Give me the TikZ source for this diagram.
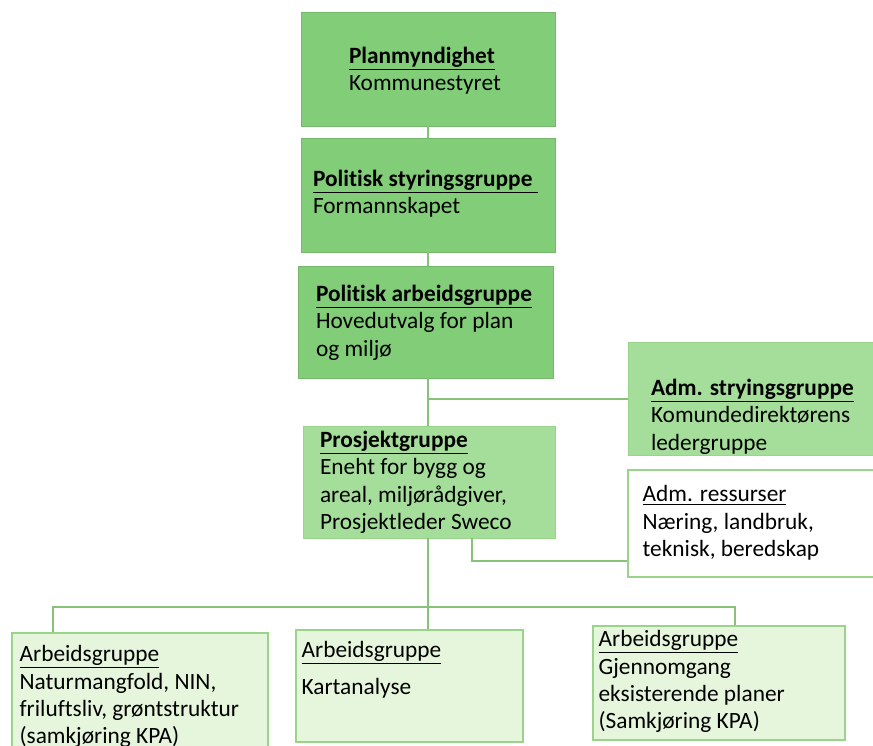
\documentclass[tikz,border=0pt]{standalone}
\usepackage{fontspec}
\setmainfont{Carlito}[RawFeature=-liga]
\definecolor{darkbox}{HTML}{82CD78}
\definecolor{midbox}{HTML}{A5DE9A}
\definecolor{lightbox}{HTML}{E6F6DC}
\definecolor{boxline}{HTML}{9AD48B}
\definecolor{linkcol}{HTML}{86C27A}
\tikzset{
	box/.style={rectangle, inner sep=0pt},
	txt/.style={anchor=north west, inner sep=0pt, align=left, font=\fontsize{17.5}{20.5}\selectfont},
	link/.style={draw=linkcol, line width=1.5pt}
}
\newcommand{\boxtitle}[1]{\underline{\textbf{#1}}}
\begin{document}
\begin{tikzpicture}[x=0.75pt, y=-0.75pt]
	\useasboundingbox (0,0) rectangle (873,745);
	% boxes
	\node[box, fill=darkbox, draw=darkbox!90!black, minimum width=190.5pt, minimum height=85.5pt] (plan) at (428,69) {};
	\node[box, fill=darkbox, draw=darkbox!90!black, minimum width=190.5pt, minimum height=85.5pt] (polstyr) at (428,195) {};
	\node[box, fill=darkbox, draw=darkbox!90!black, minimum width=191.25pt, minimum height=84pt] (polarb) at (425.5,322) {};
	\node[box, fill=midbox, draw=boxline, minimum width=189pt, minimum height=84.75pt] (admstyr) at (754,398.5) {};
	\node[box, fill=midbox, draw=boxline, minimum width=189pt, minimum height=84pt] (prosjekt) at (429,482) {};
	\node[box, fill=white, draw=boxline, line width=1pt, minimum width=189pt, minimum height=80.25pt] (admress) at (754,523.5) {};
	\node[box, fill=lightbox, draw=boxline, line width=1pt, minimum width=192pt, minimum height=95.25pt] (arbnat) at (140,696.5) {};
	\node[box, fill=lightbox, draw=boxline, line width=1pt, minimum width=170.25pt, minimum height=84pt] (arbkart) at (409.5,686) {};
	\node[box, fill=lightbox, draw=boxline, line width=1pt, minimum width=189pt, minimum height=85.5pt] (arbplan) at (719,683) {};
	% texts
	\node[txt] (plantxt) at ([shift={(48,35)}]plan.north west) {\boxtitle{Planmyndighet}\\Kommunestyret};
	\node[txt] (polstyrtxt) at ([shift={(12,32)}]polstyr.north west) {\boxtitle{Politisk styringsgruppe\ }\\Formannskapet};
	\node[txt] (polarbtxt) at ([shift={(18,19)}]polarb.north west) {\boxtitle{Politisk arbeidsgruppe}\\Hovedutvalg for plan\\og miljø};
	\node[txt] (admstyrtxt) at ([shift={(23,37)}]admstyr.north west) {\boxtitle{Adm. stryingsgruppe}\\Komundedirektørens\\ledergruppe};
	\node[txt] (prosjekttxt) at ([shift={(17,5)}]prosjekt.north west) {\boxtitle{Prosjektgruppe}\\Eneht for bygg og\\areal, miljørådgiver,\\Prosjektleder Sweco};
	\node[txt] (admresstxt) at ([shift={(15,16)}]admress.north west) {\underline{Adm. ressurser}\\Næring, landbruk,\\teknisk, beredskap};
	\node[txt] (arbnattxt) at ([shift={(8,13)}]arbnat.north west) {\underline{Arbeidsgruppe}\\Naturmangfold, NIN,\\friluftsliv, grøntstruktur\\(samkjøring KPA)};
	\node[txt] (arbkarttxt) at ([shift={(6,12)}]arbkart.north west) {\underline{Arbeidsgruppe}\\[7pt]Kartanalyse};
	\node[txt] (arbplantxt) at ([shift={(6,5)}]arbplan.north west) {\underline{Arbeidsgruppe}\\ Gjennomgang\\ eksisterende planer\\(Samkjøring KPA)};
	% connectors
	\coordinate (ressknee) at (472,561);
	\coordinate (bus) at (428,607);
	\draw[link] (plan.south) -- (polstyr.north);
	\draw[link] (polstyr.south) -- (polstyr.south |- polarb.north);
	\draw[link] (plan.south |- polarb.south) -- (plan.south |- prosjekt.north);
	\draw[link] (plan.south |- admstyr.west) -- (admstyr.west);
	\draw[link] (prosjekt.south -| ressknee) -- (ressknee) -- (ressknee -| admress.west);
	\draw[link] (plan.south |- prosjekt.south) -- (bus);
	\draw[link] ([xshift=-65.25pt]arbnat.north) |- (bus) -| ([xshift=12pt]arbplan.north);
	\draw[link] (bus) -- (bus |- arbkart.north);
\end{tikzpicture}
\end{document}
